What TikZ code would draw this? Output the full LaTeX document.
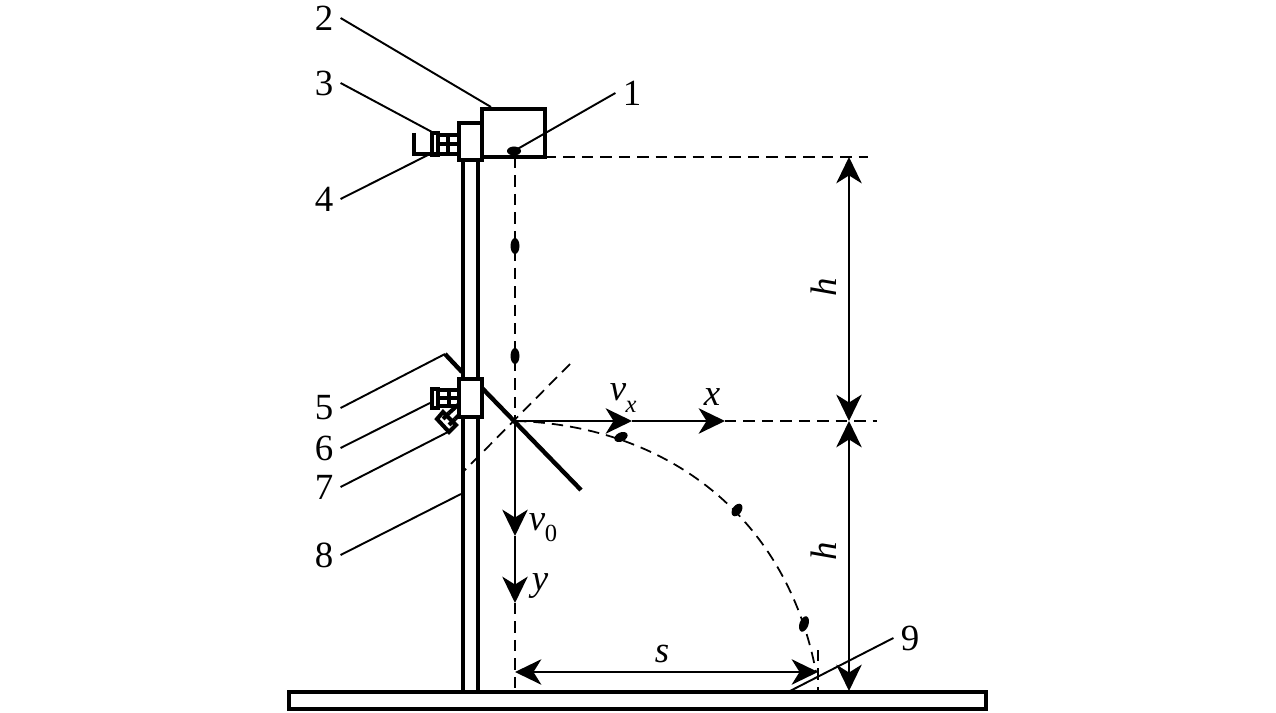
\documentclass[tikz,border=0pt]{standalone}
\usepackage{fontspec}
\setmainfont{Liberation Serif}
\usetikzlibrary{arrows.meta}

\begin{document}
\begin{tikzpicture}[x=0.02cm,y=-0.02cm]

\tikzset{thickpart/.style = {line width=2.5pt}}
\tikzset{knob/.style = {line width=2.3pt}}
\tikzset{leader/.style = {line width=1.1pt}}
\tikzset{axis/.style = {line width=1.1pt}}
\tikzset{guide/.style = {line width=1pt,dash pattern=on 6.5pt off 4pt}}
\tikzset{arc/.style = {axis,-{Stealth[length=15pt,width=14.5pt,inset=4.5pt]}}}
\tikzset{biarc/.style = {axis,{Stealth[length=15pt,width=14.5pt,inset=4.5pt]}-{Stealth[length=15pt,width=14.5pt,inset=4.5pt]}}}
\tikzset{num/.style = {inner sep=4pt,font=\fontsize{21}{21}\selectfont}}
\tikzset{sym/.style = {inner sep=0pt,font=\fontsize{21}{21}\selectfont\itshape}}
\tikzset{drop/.style = {fill=black,draw=none}}

\useasboundingbox (0,0) rectangle (1276,713);

% labels
\node[num] (n1) at (632,93) {1};
\node[num] (n2) at (324,18) {2};
\node[num] (n3) at (324,83) {3};
\node[num] (n4) at (324,199) {4};
\node[num] (n5) at (324,408) {5};
\node[num] (n6) at (324,448) {6};
\node[num] (n7) at (324,487) {7};
\node[num] (n8) at (324,555) {8};
\node[num] (n9) at (910,638) {9};

% base and post
\draw[thickpart] (289,692) rectangle (986,709);
\draw[thickpart] (463,160) -- (463,692);
\draw[thickpart] (478,160) -- (478,692);

% top clamp and box
\draw[thickpart,fill=white] (459,123) rectangle (482,160);
\draw[thickpart,fill=white] (482,109) rectangle (545,157);

% top knob
\draw[thickpart] (414,133) -- (414,154) -- (459,154);
\draw[knob] (432,133) rectangle (438,155);
\draw[knob] (438,135) -- (459,135);
\draw[knob] (438,144) -- (459,144);
\draw[knob] (448,135) -- (448,154);

% lower clamp
\draw[thickpart,fill=white] (459,379) rectangle (482,417);
\draw[knob] (432,389) rectangle (438,408);
\draw[knob] (438,390) -- (459,390);
\draw[knob] (438,398) -- (459,398);
\draw[knob] (438,406) -- (459,406);
\draw[knob] (449,390) -- (449,406);

% slanted knob
\draw[knob,fill=white] (437,419) -- (443,412) -- (456,425) -- (449,432) -- cycle;
\draw[knob] (443,419) -- (449,413);
\draw[knob] (449,425) -- (455,419);
\draw[knob] (449,413) -- (459,404);
\draw[knob] (455,419) -- (460,414);

% board
\coordinate (hit) at (515,421);
\draw[thickpart] (482,388) -- (581,490);
\draw[thickpart] (462,372) -- (445,354);

% guide lines
\coordinate (boxedge) at (545,157);
\coordinate (topend) at (868,157);
\coordinate (dropstart) at (515,157);
\coordinate (xtip) at (725,421);
\coordinate (midend) at (877,421);
\coordinate (ytip) at (515,603);
\coordinate (yfoot) at (515,692);
\coordinate (nrmhi) at (570,364);
\coordinate (nrmlo) at (463,472);
\coordinate (landhi) at (818,650);
\coordinate (landlo) at (818,692);
\draw[guide] (boxedge) -- (topend);
\draw[guide] (dropstart) -- (hit);
\draw[guide] (xtip) -- (midend);
\draw[guide] (ytip) -- (yfoot);
\draw[guide] (nrmhi) -- (nrmlo);
\draw[guide] (landhi) -- (landlo);
\draw[guide] (hit) .. controls (660,425) and (785,510) .. (816,672);

% drops
\fill[drop] (514,151) ellipse (7 and 4.5);
\fill[drop] (515,246) ellipse (4.5 and 8);
\fill[drop] (515,356) ellipse (4.5 and 8);
\fill[drop,rotate around={25:(621,437)}] (621,437) ellipse (7 and 4.5);
\fill[drop,rotate around={55:(737,510)}] (737,510) ellipse (7 and 4.5);
\fill[drop,rotate around={70:(804,624)}] (804,624) ellipse (8 and 4.5);

% arcs
\coordinate (vxtip) at (632,421);
\coordinate (v0tip) at (515,536);
\draw[arc] (hit) to (vxtip);
\draw[arc] (vxtip) to (xtip);
\draw[arc] (hit) to (v0tip);
\draw[arc] (v0tip) to (ytip);

% dimensions
\coordinate (htop) at (849,157);
\coordinate (hmid) at (849,421);
\coordinate (hbot) at (849,691);
\coordinate (sleft) at (515,672);
\coordinate (sright) at (818,672);
\draw[biarc] (htop) to (hmid);
\draw[biarc] (hmid) to (hbot);
\draw[biarc] (sleft) to (sright);

% symbols
\node[sym] (vx) at (618,392) {v};
\node[sym,font=\fontsize{14}{14}\selectfont\itshape] (vxsub) at (631,407) {x};
\node[sym] (x) at (712,397) {x};
\node[sym] (v0) at (537,522) {v};
\node[sym,font=\fontsize{14}{14}\selectfont] (v0sub) at (551,533) {0};
\node[sym] (y) at (540,586) {y};
\node[sym] (s) at (662,654) {s};
\node[sym,rotate=90] (h1) at (824,287) {h};
\node[sym,rotate=90] (h2) at (824,551) {h};

% leaders
\coordinate (to1) at (514,151);
\coordinate (to2) at (491,107);
\coordinate (to3) at (432,132);
\coordinate (to4) at (428,155);
\coordinate (to5) at (445,354);
\coordinate (to6) at (430,403);
\coordinate (to7) at (448,432);
\coordinate (to8) at (461,494);
\coordinate (to9) at (790,691);
\draw[leader] (n1.west) -- (to1);
\draw[leader] (n2.east) -- (to2);
\draw[leader] (n3.east) -- (to3);
\draw[leader] (n4.east) -- (to4);
\draw[leader] (n5.east) -- (to5);
\draw[leader] (n6.east) -- (to6);
\draw[leader] (n7.east) -- (to7);
\draw[leader] (n8.east) -- (to8);
\draw[leader] (n9.west) -- (to9);

\end{tikzpicture}
\end{document}
